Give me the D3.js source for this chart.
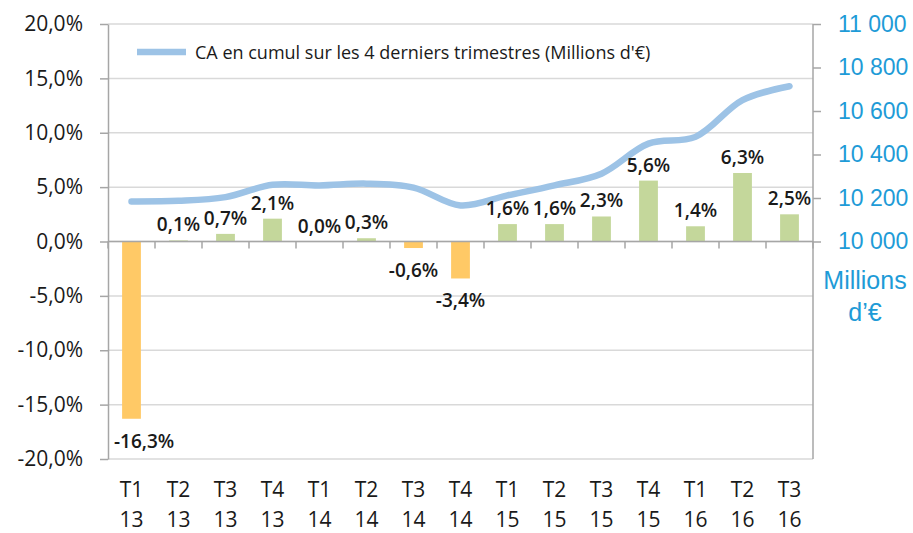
<!DOCTYPE html>
<html>
<head>
<meta charset="utf-8">
<script src="https://cdn.jsdelivr.net/npm/d3@7"></script>
<style>
  html, body { margin: 0; padding: 0; background: #fff; }
  svg { display: block; }
</style>
</head>
<body>
<div id="chart"></div>
<script>
(function(){
    /* data */
    const quarters = ['T1','T2','T3','T4','T1','T2','T3','T4','T1','T2','T3','T4','T1','T2','T3'];
    const years    = ['13','13','13','13','14','14','14','14','15','15','15','15','16','16','16'];
    const growth   = [-16.3, 0.1, 0.7, 2.1, 0.0, 0.3, -0.6, -3.4, 1.6, 1.6, 2.3, 5.6, 1.4, 6.3, 2.5];
    const cumul    = [10184, 10187, 10204, 10261, 10258, 10266, 10248, 10166, 10212, 10258, 10312, 10450, 10481, 10650, 10714];
    const leftTicks  = [-20, -15, -10, -5, 0, 5, 10, 15, 20];
    const rightTicks = [10000, 10200, 10400, 10600, 10800, 11000];
    const legendText = "CA en cumul sur les 4 derniers trimestres (Millions d'€)";

    /* configuration */
    const config = { "vw": 913, "vh": 533 };
    const margin = ({top: 24, right: 100, bottom: 74, left: 108});
    const FONT = "'Open Sans', sans-serif";
    const AXIS_COLOR = "#A6A6A6", GRID_COLOR = "#D9D9D9";
    const NEG_COLOR = "#FFC966", POS_COLOR = "#C4D79B", LINE_COLOR = "#9DC3E6";
    const BLUE_TEXT = "#1E9BD7";

    const cats = quarters.map((q, i) => q + ' ' + years[i]);
    const fmtPct = v => v.toFixed(1).replace('.', ',') + '%';

    const svg = d3.select("#chart").append("svg")
      .attr("width", config.vw)
      .attr("height", config.vh)
      .attr("font-family", FONT);

    const xScale = d3.scaleBand()
      .domain(cats)
      .range([margin.left, config.vw - margin.right]);
    const yScale = d3.scaleLinear()
      .domain([-20, 20])
      .range([config.vh - margin.bottom, margin.top]);
    const yRight = d3.scaleLinear()
      .domain([10000, 11000])
      .range([yScale(0), yScale(20)]);
    const xMid = i => xScale(cats[i]) + xScale.bandwidth() / 2;

    // gridlines
    svg.append("g")
      .selectAll("line")
      .data(leftTicks)
      .join("line")
        .attr("x1", xScale.range()[0])
        .attr("x2", xScale.range()[1])
        .attr("y1", d => yScale(d))
        .attr("y2", d => yScale(d))
        .attr("stroke", GRID_COLOR)
        .attr("stroke-width", 1.5);

    // left axis
    const yAxis = d3.axisLeft(yScale)
      .tickValues(leftTicks)
      .tickFormat(fmtPct)
      .tickSizeInner(8)
      .tickSizeOuter(0)
      .tickPadding(17);
    const yAxisGroup = svg.append("g")
      .attr("transform", "translate(" + margin.left + ",0)")
      .call(yAxis);
    yAxisGroup.selectAll("text")
      .attr("font-family", FONT)
      .style("font-size", "21px")
      .attr("fill", "#1a1a1a");

    // right axis
    const yAxisR = d3.axisRight(yRight)
      .tickValues(rightTicks)
      .tickFormat(d => d3.format(",")(d).replace(',', ' '))
      .tickSizeInner(8)
      .tickSizeOuter(0)
      .tickPadding(17);
    const yAxisRGroup = svg.append("g")
      .attr("transform", "translate(" + (config.vw - margin.right) + ",0)")
      .call(yAxisR);
    yAxisRGroup.select(".domain").remove();
    yAxisRGroup.selectAll("text")
      .attr("font-family", "'Liberation Sans', Arial, sans-serif")
      .style("font-size", "23px")
      .attr("fill", BLUE_TEXT);
    svg.append("line")
      .attr("class", "raxis")
      .attr("x1", config.vw - margin.right).attr("x2", config.vw - margin.right)
      .attr("y1", yScale(20)).attr("y2", yScale(-20));

    svg.selectAll(".tick line, .domain, .raxis")
      .attr("stroke", AXIS_COLOR)
      .attr("stroke-width", 1.5);

    // right axis unit
    const unit = svg.append("text")
      .attr("text-anchor", "middle")
      .attr("font-family", "'Liberation Sans', Arial, sans-serif")
      .style("font-size", "25px")
      .attr("fill", BLUE_TEXT);
    unit.append("tspan").attr("x", 865).attr("y", 289).text("Millions");
    unit.append("tspan").attr("x", 865).attr("y", 321).text("d’€");

    // bars
    const barW = xScale.bandwidth() * 0.4;
    svg.append("g")
      .selectAll("rect")
      .data(growth)
      .join("rect")
        .attr("x", (d, i) => xMid(i) - barW / 2)
        .attr("y", d => yScale(Math.max(d, 0)))
        .attr("width", barW)
        .attr("height", d => Math.abs(yScale(d) - yScale(0)))
        .attr("fill", d => d < 0 ? NEG_COLOR : POS_COLOR);

    // zero axis with category boundary ticks
    const y0 = yScale(0);
    svg.append("line")
      .attr("x1", xScale.range()[0]).attr("x2", xScale.range()[1])
      .attr("y1", y0).attr("y2", y0)
      .attr("stroke", AXIS_COLOR).attr("stroke-width", 1.5);
    svg.append("g")
      .selectAll("line")
      .data(d3.range(cats.length + 1))
      .join("line")
        .attr("x1", i => xScale.range()[0] + i * xScale.step())
        .attr("x2", i => xScale.range()[0] + i * xScale.step())
        .attr("y1", y0)
        .attr("y2", y0 + 7)
        .attr("stroke", AXIS_COLOR)
        .attr("stroke-width", 1.5);

    // category labels
    const xLab = svg.append("g")
      .selectAll("text")
      .data(cats)
      .join("text")
        .attr("text-anchor", "middle")
        .style("font-size", "21px")
        .attr("fill", "#1a1a1a");
    xLab.append("tspan")
      .attr("x", (d, i) => xMid(i))
      .attr("y", 497)
      .text((d, i) => quarters[i]);
    xLab.append("tspan")
      .attr("x", (d, i) => xMid(i))
      .attr("y", 527)
      .text((d, i) => years[i]);

    // cumulative line
    const line = d3.line()
      .x((d, i) => xMid(i))
      .y(d => yRight(d))
      .curve(d3.curveCatmullRom.alpha(0.5));
    svg.append("path")
      .datum(cumul)
      .attr("d", line)
      .attr("fill", "none")
      .attr("stroke", LINE_COLOR)
      .attr("stroke-width", 6.5)
      .attr("stroke-linecap", "round");

    // data labels (pushed right if they would cross the left axis)
    svg.append("g")
      .selectAll("text")
      .data(growth)
      .join("text")
        .attr("x", (d, i) => xMid(i))
        .attr("y", d => d < 0 ? yScale(d) + 29 : yScale(d) - 9)
        .attr("text-anchor", "middle")
        .style("font-size", "19px")
        .style("font-weight", 600)
        .attr("fill", "#1a1a1a")
        .text(fmtPct)
        .each(function(){
          const b = this.getBBox();
          const minX = margin.left + 6;
          if (b.x < minX) d3.select(this).attr("x", +d3.select(this).attr("x") + (minX - b.x));
        });

    // legend
    svg.append("line")
      .attr("x1", 137).attr("x2", 186)
      .attr("y1", 52).attr("y2", 52)
      .attr("stroke", LINE_COLOR)
      .attr("stroke-width", 6.5);
    svg.append("text")
      .attr("x", 195)
      .attr("y", 59)
      .style("font-size", "18px")
      .attr("fill", "#1a1a1a")
      .text(legendText);
})();
</script>
</body>
</html>
